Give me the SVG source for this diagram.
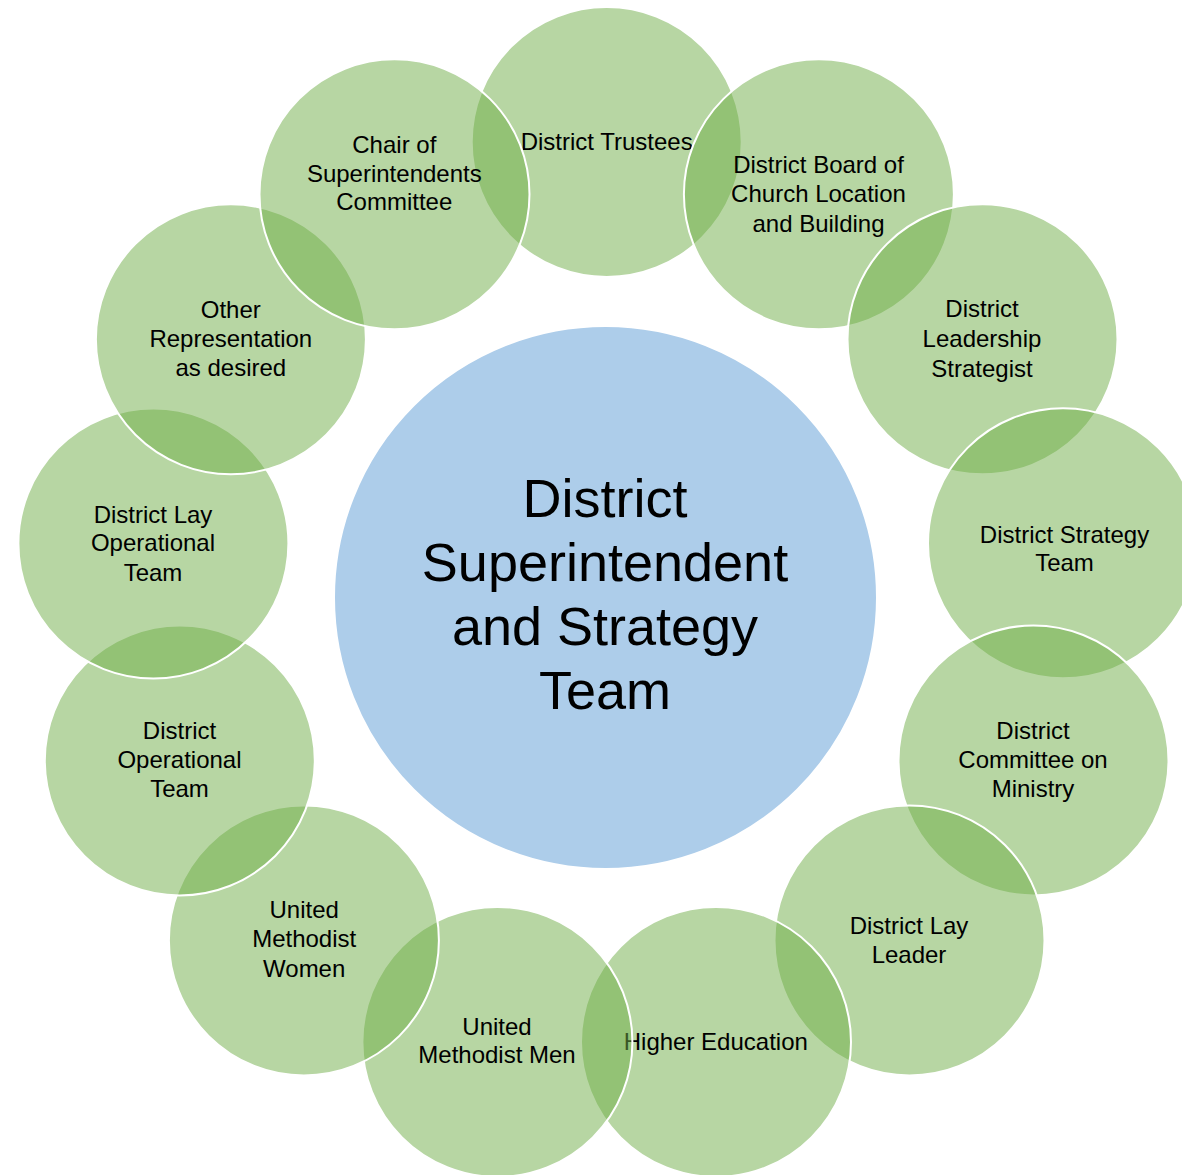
<svg xmlns="http://www.w3.org/2000/svg" width="1182" height="1175" viewBox="0 0 1182 1175">
<style>
.bg{fill:#ffffff}
.node{fill:#70AD47;fill-opacity:0.5;stroke:#ffffff;stroke-width:2}
.hub{fill:#5B9BD5;fill-opacity:0.5;stroke:#ffffff;stroke-width:2}
.lbl{font-family:"Liberation Sans",Arial,sans-serif;font-size:24px;fill:#000000;text-anchor:middle}
.big{font-family:"Liberation Sans",Arial,sans-serif;font-size:54px;fill:#000000;text-anchor:middle}
</style>
<rect class="bg" x="0" y="0" width="1182" height="1175"/>
<g id="connectors"></g>
<g id="hub">
<circle class="hub" cx="605.5" cy="597.5" r="271.5"/>
<text class="big" x="605" y="517">District</text>
<text class="big" x="605" y="581">Superintendent</text>
<text class="big" x="605" y="645">and Strategy</text>
<text class="big" x="605" y="709">Team</text>
</g>
<g id="n-trustees">
<circle class="node" cx="606.7" cy="142" r="135"/>
<text class="lbl" x="606.7" y="150">District Trustees</text>
</g>
<g id="n-board">
<circle class="node" cx="818.9" cy="194.3" r="135"/>
<text class="lbl" x="818.5" y="173.3">District Board of</text>
<text class="lbl" x="818.5" y="202.3">Church Location</text>
<text class="lbl" x="818.5" y="231.5">and Building</text>
</g>
<g id="n-leadership">
<circle class="node" cx="982.5" cy="339.3" r="135"/>
<text class="lbl" x="982" y="316.7">District</text>
<text class="lbl" x="982" y="346.5">Leadership</text>
<text class="lbl" x="982" y="376.5">Strategist</text>
</g>
<g id="n-strategy">
<circle class="node" cx="1063" cy="543.3" r="135"/>
<text class="lbl" x="1064.5" y="543.3">District Strategy</text>
<text class="lbl" x="1064.5" y="571">Team</text>
</g>
<g id="n-committee">
<circle class="node" cx="1033.5" cy="760.5" r="135"/>
<text class="lbl" x="1033" y="739.3">District</text>
<text class="lbl" x="1033" y="767.7">Committee on</text>
<text class="lbl" x="1033" y="796.7">Ministry</text>
</g>
<g id="n-laylead">
<circle class="node" cx="909.5" cy="940.4" r="135"/>
<text class="lbl" x="909" y="934">District Lay</text>
<text class="lbl" x="909" y="962.7">Leader</text>
</g>
<g id="n-highered">
<circle class="node" cx="716" cy="1041.9" r="135"/>
<text class="lbl" x="715.8" y="1050">Higher Education</text>
</g>
<g id="n-umm">
<circle class="node" cx="497.4" cy="1041.9" r="135"/>
<text class="lbl" x="497" y="1035">United</text>
<text class="lbl" x="497" y="1063.3">Methodist Men</text>
</g>
<g id="n-umw">
<circle class="node" cx="303.9" cy="940.4" r="135"/>
<text class="lbl" x="304.2" y="918.3">United</text>
<text class="lbl" x="304.2" y="946.7">Methodist</text>
<text class="lbl" x="304.2" y="976.7">Women</text>
</g>
<g id="n-operational">
<circle class="node" cx="179.8" cy="760.5" r="135"/>
<text class="lbl" x="179.5" y="739.3">District</text>
<text class="lbl" x="179.5" y="767.5">Operational</text>
<text class="lbl" x="179.5" y="797.3">Team</text>
</g>
<g id="n-layop">
<circle class="node" cx="153.4" cy="543.6" r="135"/>
<text class="lbl" x="153" y="522.7">District Lay</text>
<text class="lbl" x="153" y="550.7">Operational</text>
<text class="lbl" x="153" y="580.7">Team</text>
</g>
<g id="n-other">
<circle class="node" cx="230.9" cy="339.3" r="135"/>
<text class="lbl" x="230.8" y="318.3">Other</text>
<text class="lbl" x="230.8" y="346.7">Representation</text>
<text class="lbl" x="230.8" y="376">as desired</text>
</g>
<g id="n-chair">
<circle class="node" cx="394.5" cy="194.3" r="135"/>
<text class="lbl" x="394.3" y="152.7">Chair of</text>
<text class="lbl" x="394.3" y="181.7">Superintendents</text>
<text class="lbl" x="394.3" y="210.3">Committee</text>
</g>
</svg>
